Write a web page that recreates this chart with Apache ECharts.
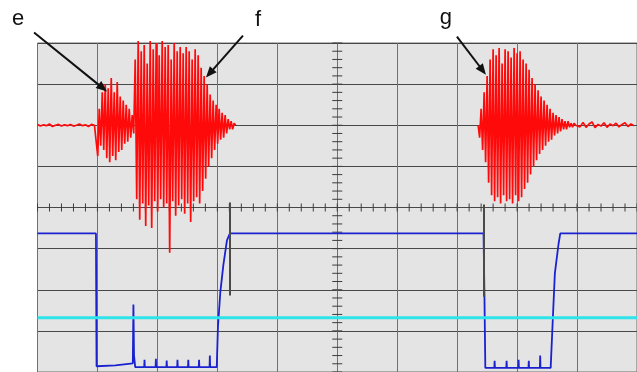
<!DOCTYPE html>
<html>
<head>
<meta charset="utf-8">
<script src="https://cdn.jsdelivr.net/npm/echarts@6/dist/echarts.min.js"></script>
<style>
  html, body { margin: 0; padding: 0; background: #fff; }
  #main { width: 637px; height: 372px; }
</style>
</head>
<body>
<div id="main"></div>
<script>
// screen units: 10 per division, x 0..100 (10 div), y -40..40 (8 div)
const sampleStep = 0.25;

// channel 1 (red), baseline at +20
const redNoiseStart = 0;
const redNoise = [20.2, 19.8, 20.1, 19.9, 20.3, 19.7, 20, 20.2, 19.8, 20.1,
  19.9, 20.2, 19.8, 20, 20.3, 19.9, 20.1, 19.7, 20.2, 20];
const burstEFStart = 9.8;
const burstEF = [
  20, 12.5, 24, 15, 28, 14, 30, 12, 29, 11,
  31.5, 12.5, 28, 11.5, 30.5, 13.5, 27, 14, 26, 15.5,
  25, 16, 24, 17, 22.5, 18, 36, 2, 40.5, -3,
  38, 1, 39.5, -4.5, 35, 0.5, 40.5, -5, 38.5, 1.5,
  40, -1, 37, 2, 40.5, 0, 39, 1, 39.5, -11,
  36, 1.5, 40, -2, 38, 0.5, 39, 2, 37.5, -1.5,
  39, 1, 38, -3.5, 36, 1.5, 38.5, 2.5, 37, 1,
  34, 4, 32, 7, 30, 10, 27.5, 12, 26, 14,
  25, 15.5, 24, 16.5, 23, 17, 22.5, 18, 21.5, 19,
  21, 19, 20.5, 20
];
const burstGStart = 73.5;
const burstG = [
  20, 17, 24, 14, 28, 11, 32, 6, 36, 3,
  38.5, 1.5, 37, 2.5, 38.8, 1, 35, 3, 38.5, 1.5,
  38, 2, 36.5, 1, 38.8, 3, 37.5, 1.5, 38, 2.5,
  36, 4.5, 35, 6, 33.5, 8, 31.5, 10, 30, 11.5,
  28.5, 13, 27, 14, 26, 15, 25, 16, 24, 16.5,
  23, 17.5, 22.5, 18, 22, 18.5, 21.5, 19, 21, 19,
  21, 19.5, 20.5, 19.5, 20.5, 20
];
const redTailStart = 90;
const redTail = [20.4, 19.6, 20.7, 19.5, 20.3, 20.8, 19.4, 20.2, 19.8, 20.6,
  19.5, 20.3, 19.9, 20.5, 19.6, 20.2, 20.6, 19.7, 20.3, 19.9];

// channel 2 (blue)
const blueTimes = [0, 9.75, 9.85, 13, 15.9, 16.0, 16.1, 16.3,
  17.8, 17.85, 17.9, 19.7, 19.75, 19.8, 21.5, 21.55, 21.6, 23.3, 23.35, 23.4,
  25.1, 25.15, 25.2, 26.9, 26.95, 27.0, 28.7, 28.75, 28.8,
  29.9, 30.1, 30.5, 31.0, 31.6, 32.1,
  74.4, 74.55, 74.7,
  76.2, 76.25, 76.3, 78.2, 78.25, 78.3, 80.2, 80.25, 80.3, 81.9, 81.95, 82.0, 83.8, 83.85, 83.9,
  85.6, 85.9, 86.3, 86.9, 87.2, 100];
const blueValues = [-6.3, -6.3, -38.6, -38.4, -37.9, -23.6, -36, -38.8,
  -38.8, -37, -38.8, -38.8, -36.8, -38.8, -38.8, -37.2, -38.8, -38.8, -37, -38.8,
  -38.8, -37, -38.8, -38.8, -37, -38.8, -38.8, -36, -38.8,
  -38.8, -29, -20.5, -14, -8, -6.3,
  -6.3, -21, -39,
  -39, -37.3, -39, -39, -37.3, -39, -39, -37, -39, -39, -37.3, -39, -39, -36, -39,
  -39, -29, -16, -9, -6.3, -6.3];

// channel 3 (cyan)
const cyanTimes = [0, 100];
const cyanValues = [-26.8, -26.8];

// cursors
const cursorX = [32.0, 74.5];
const cursorTop = [1.2, 0.7];
const cursorBottom = [-21.4, -21.7];

// annotations: label, arrow tip (data units)
const labels = ['e', 'f', 'g'];
const labelTips = [[11.6, 28.2], [28.1, 31.6], [74.8, 32.3]];

const sampled = (start, values) => values.map((v, i) => [start + i * sampleStep, v]);
const stepped = (start, step, values) => values.map((v, i) => [start + i * step, v]);

const redA = stepped(redNoiseStart, 0.5, redNoise).concat(sampled(burstEFStart, burstEF));
const redB = sampled(burstGStart, burstG).concat(stepped(redTailStart, 0.5, redTail));

const tickData = [];
for (let x = 0; x <= 100; x += 2) tickData.push([x, 0, 0]);
for (let y = -40; y <= 40; y += 2) tickData.push([50, y, 1]);

const chart = echarts.init(document.getElementById('main'));
chart.setOption({
  animation: false,
  backgroundColor: '#ffffff',
  grid: {
    show: true, left: 37.5, top: 43, width: 606, height: 331,
    backgroundColor: '#e4e4e4', borderColor: '#6e6e6e', borderWidth: 1
  },
  xAxis: {
    type: 'value', min: 0, max: 100, interval: 10,
    axisLine: { show: false }, axisTick: { show: false }, axisLabel: { show: false },
    splitLine: { show: true, lineStyle: { color: '#707070', width: 1 } }
  },
  yAxis: {
    type: 'value', min: -40, max: 40, interval: 10,
    axisLine: { show: false }, axisTick: { show: false }, axisLabel: { show: false },
    splitLine: { show: true, lineStyle: { color: '#484848', width: 1 } }
  },
  series: [
    {
      type: 'custom', data: tickData, silent: true, z: 1, clip: false,
      renderItem: (params, api) => {
        const p = api.coord([api.value(0), api.value(1)]);
        const onX = api.value(2) === 0;
        return {
          type: 'line',
          shape: onX
            ? { x1: p[0], y1: p[1] - 4, x2: p[0], y2: p[1] + 4 }
            : { x1: p[0] - 5, y1: p[1], x2: p[0] + 5, y2: p[1] },
          style: { stroke: '#3c3c3c', lineWidth: 1 }
        };
      }
    },
    {
      type: 'line', data: redA, showSymbol: false, silent: true, clip: false, z: 3,
      lineStyle: { color: '#ff0a0a', width: 1.7 }
    },
    {
      type: 'line', data: redB, showSymbol: false, silent: true, clip: false, z: 3,
      lineStyle: { color: '#ff0a0a', width: 1.7 }
    },
    {
      type: 'line', data: blueTimes.map((t, i) => [t, blueValues[i]]),
      showSymbol: false, silent: true, clip: false, z: 4,
      lineStyle: { color: '#1a22d0', width: 1.8 },
      markLine: {
        silent: true, symbol: 'none', label: { show: false },
        lineStyle: { color: '#4a4a4a', width: 2, type: 'solid' },
        data: cursorX.map((x, i) => [{ coord: [x, cursorTop[i]] }, { coord: [x, cursorBottom[i]] }])
      }
    },
    {
      type: 'line', data: cyanTimes.map((t, i) => [t, cyanValues[i]]),
      showSymbol: false, silent: true, clip: false, z: 5,
      lineStyle: { color: '#2ee4ea', width: 3 }
    }
  ]
});

// annotation arrows, offsets in px relative to the tip
const tailOffsets = [[-73, -59], [37, -42], [-29, -38]];
const textOffsets = [[-89, -72.5], [52, -57.6], [-40, -57]];
const graphic = [];
labels.forEach((lab, i) => {
  const tip = chart.convertToPixel({ gridIndex: 0 }, labelTips[i]);
  const tail = [tip[0] + tailOffsets[i][0], tip[1] + tailOffsets[i][1]];
  const dx = tip[0] - tail[0], dy = tip[1] - tail[1];
  const len = Math.sqrt(dx * dx + dy * dy);
  const ux = dx / len, uy = dy / len, nx = -uy, ny = ux;
  const hl = 11, hw = 4.5;
  const bx = tip[0] - ux * hl, by = tip[1] - uy * hl;
  graphic.push({
    type: 'line', z: 100, silent: true,
    shape: { x1: tail[0], y1: tail[1], x2: bx + ux * 2, y2: by + uy * 2 },
    style: { stroke: '#111', lineWidth: 2 }
  });
  graphic.push({
    type: 'polygon', z: 100, silent: true,
    shape: { points: [tip, [bx + nx * hw, by + ny * hw], [bx - nx * hw, by - ny * hw]] },
    style: { fill: '#111' }
  });
  graphic.push({
    type: 'text', z: 100, silent: true,
    style: {
      x: tip[0] + textOffsets[i][0], y: tip[1] + textOffsets[i][1], text: lab,
      font: '22px "Liberation Sans", Arial, sans-serif', fill: '#111',
      textAlign: 'center', textVerticalAlign: 'middle'
    }
  });
});
chart.setOption({ graphic: graphic });
</script>
</body>
</html>
